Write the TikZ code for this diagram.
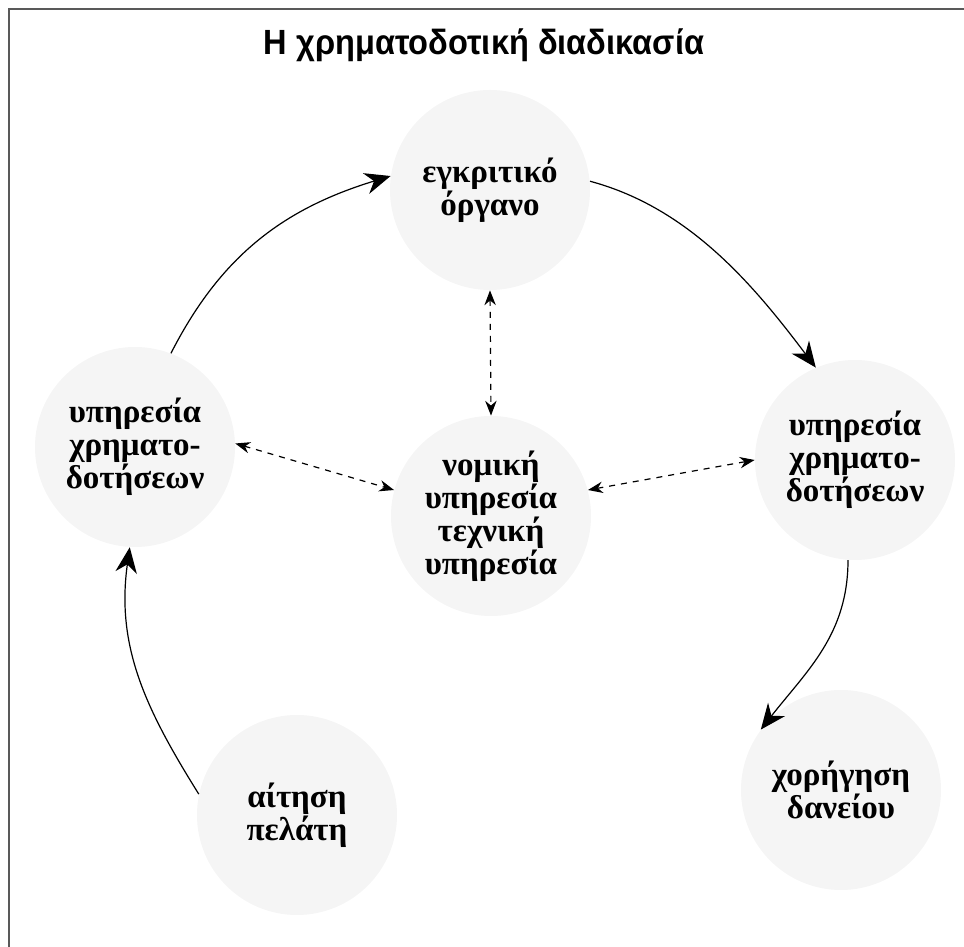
\documentclass[tikz,border=0pt]{standalone}
\usepackage{fontspec}
\setmainfont{Liberation Serif}
\newfontfamily\headfont[FakeStretch=0.93]{Liberation Sans}
\usetikzlibrary{arrows.meta}

\begin{document}
\begin{tikzpicture}[
    x=0.5pt, y=0.5pt,
    stage/.style={
      circle,
      fill=black!4,
      minimum size=100pt,
      align=center,
      font=\bfseries\fontsize{16.5}{16.5}\selectfont,
      inner sep=0pt
    },
    flow/.style={-{Stealth[length=4.5mm,width=3.8mm]}, semithick},
    link/.style={{Stealth[length=2.6mm,width=2mm]}-{Stealth[length=2.6mm,width=2mm]},
      dashed, semithick}
  ]
    \useasboundingbox (0,0) rectangle (964,947);
    \draw[line width=1.2pt, black!65] (9,0) -- (9,938) -- (964,938);

    \node[font=\headfont\bfseries\fontsize{17.5}{20}\selectfont] (title) at (484,902)
      {Η χρηματοδοτική διαδικασία};

    \node[stage] (board) at (490,757) {εγκριτικό\\όργανο};
    \node[stage] (finleft) at (135,500) {υπηρεσία\\χρηματο-\\δοτήσεων};
    \node[stage] (legal) at (491,431)
      {νομική\\υπηρεσία\\τεχνική\\υπηρεσία};
    \node[stage] (finright) at (855,487) {υπηρεσία\\χρηματο-\\δοτήσεων};
    \node[stage] (request) at (297,132) {αίτηση\\πελάτη};
    \node[stage] (grant) at (841,157) {χορήγηση\\δανείου};

    \draw[flow] (finleft.69) to[out=63, in=197] (board.172);
    \draw[flow] (board.5) to[out=-15, in=127, looseness=0.9] (finright.113);
    \draw[flow] (finright.266) to[out=-90, in=52] (grant.143);
    \draw[flow] (request.168) to[out=122, in=-98] (finleft.267);

    \draw[link] (board.south) -- (legal.north);
    \draw[link] (finleft.2) -- (legal.165);
    \draw[link] (legal.15) -- (finright.180);
  \end{tikzpicture}
\end{document}
